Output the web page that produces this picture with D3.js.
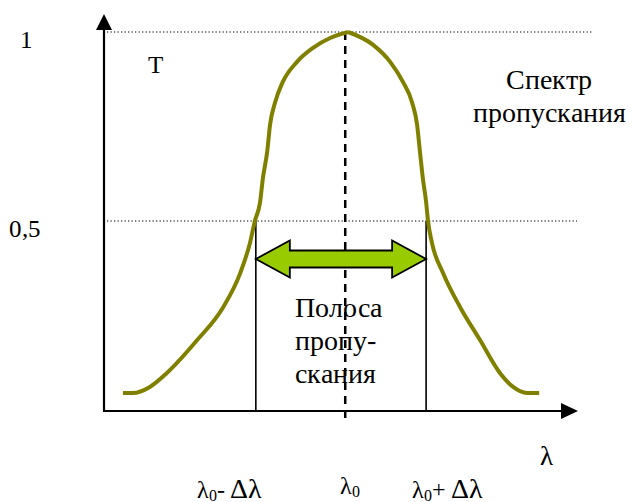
<!DOCTYPE html>
<html>
<head>
<meta charset="utf-8">
<script src="https://cdn.jsdelivr.net/npm/d3@7"></script>
<style>
	@font-face { font-family: "ChartSerif"; src: local("Liberation Serif"), local("LiberationSerif"), local("LiberationSerif-Regular"); }
</style>
</head>
<body style="margin:0">
<svg id="chart"></svg>
<script>
// wavelength (arbitrary units) and transmission T of the filter
var lambdaValues = [4.0, 6.1, 9.7, 13.3, 19.7, 25.2, 28.8, 30.9, 31.9, 33.0, 33.6, 34.5, 35.1, 36.2, 37.8, 40.8, 44.2, 47.8, 51.6,
	56.9, 60.5, 63.2, 65.1, 66.2, 66.8, 67.4, 68.1, 68.5, 69.3, 71.7, 75.3, 79.5, 83.7, 86.5, 89.4, 92.0];
var transmission = [0.045, 0.045, 0.061, 0.098, 0.185, 0.272, 0.362, 0.444, 0.5, 0.550, 0.614, 0.683, 0.754, 0.815, 0.868, 0.921, 0.958, 0.984, 1.0,
	0.966, 0.921, 0.868, 0.815, 0.754, 0.683, 0.614, 0.550, 0.5, 0.444, 0.362, 0.272, 0.185, 0.098, 0.061, 0.045, 0.045];
var peakIndex = 18;

var yTickValues = [1, 0.5];
var yTickLabels = ["1", "0,5"];

var lambda0 = 51.0;
var bandEdges = [32.1, 68.1];   // lambda0 - dl, lambda0 + dl
var bandText = ["Полоса", "пропу-", "скания"];
var spectrumText = ["Спектр", "пропускания"];

var svg = d3.select("#chart").attr("width", 633).attr("height", 502);

var xScale = d3.scaleLinear().domain([0, 100]).range([104, 577]);
var yScale = d3.scaleLinear().domain([0, 1]).range([410, 32]);

var curveColor = "#808000";
var serif = "ChartSerif";

// dotted reference lines for T = 1 and T = 0.5
svg.selectAll(".refLine")
	.data(yTickValues)
	.enter()
	.append("line")
	.attr("class", "refLine")
	.attr("x1", xScale(0) + 3)
	.attr("x2", function(d) { return d == 1 ? 593 : 577; })
	.attr("y1", function(d) { return yScale(d); })
	.attr("y2", function(d) { return yScale(d); })
	.attr("stroke", "#000")
	.attr("stroke-width", 1.2)
	.attr("stroke-dasharray", "1.3,2.2");

// band edges: vertical lines from T = 0.5 down to the axis
svg.selectAll(".bandEdge")
	.data(bandEdges)
	.enter()
	.append("line")
	.attr("class", "bandEdge")
	.attr("x1", function(d) { return xScale(d); })
	.attr("x2", function(d) { return xScale(d); })
	.attr("y1", yScale(0.5))
	.attr("y2", yScale(0))
	.attr("stroke", "#000")
	.attr("stroke-width", 1.6);

// central wavelength
svg.append("line")
	.attr("x1", xScale(lambda0))
	.attr("x2", xScale(lambda0))
	.attr("y1", yScale(1))
	.attr("y2", yScale(0) + 13)
	.attr("stroke", "#000")
	.attr("stroke-width", 2.5)
	.attr("stroke-dasharray", "8,6");

// transmission curve: rising and falling halves meet in a sharp peak
var line = d3.line()
	.x(function(d) { return xScale(lambdaValues[d]); })
	.y(function(d) { return yScale(transmission[d]); })
	.curve(d3.curveMonotoneX);

var idx = d3.range(lambdaValues.length);
[idx.slice(0, peakIndex + 1), idx.slice(peakIndex)].forEach(function(part) {
	svg.append("path")
		.attr("d", line(part))
		.attr("fill", "none")
		.attr("stroke", curveColor)
		.attr("stroke-width", 4);
});

// double arrow for the pass band
var xa = xScale(bandEdges[0]), xb = xScale(bandEdges[1]);
var ya = 259, headLen = 34, headHalf = 18.5, shaftHalf = 8.5;
var arrowPts = [
	[xa, ya], [xa + headLen, ya - headHalf], [xa + headLen, ya - shaftHalf],
	[xb - headLen, ya - shaftHalf], [xb - headLen, ya - headHalf], [xb, ya],
	[xb - headLen, ya + headHalf], [xb - headLen, ya + shaftHalf],
	[xa + headLen, ya + shaftHalf], [xa + headLen, ya + headHalf]
];
svg.append("path")
	.attr("d", "M" + arrowPts.join("L") + "Z")
	.attr("fill", "#99cc00")
	.attr("stroke", "#000")
	.attr("stroke-width", 1.8);

// axes
var x0 = xScale(0), y0 = yScale(0);
svg.append("line")
	.attr("x1", x0).attr("x2", x0)
	.attr("y1", y0 + 1).attr("y2", 28)
	.attr("stroke", "#000").attr("stroke-width", 2.2);
svg.append("path")
	.attr("d", "M" + (x0 - 8) + ",30L" + x0 + ",14L" + (x0 + 8) + ",30Z")
	.attr("fill", "#000");
svg.append("line")
	.attr("x1", x0 - 1).attr("x2", 563)
	.attr("y1", y0 + 1).attr("y2", y0 + 1)
	.attr("stroke", "#000").attr("stroke-width", 2.2);
svg.append("path")
	.attr("d", "M561," + (y0 - 7) + "L578," + (y0 + 1) + "L561," + (y0 + 9) + "Z")
	.attr("fill", "#000");

// plain text labels
var labels = [
	{ x: 20, y: yScale(yTickValues[0]) + 16, size: 25, anchor: "start", text: yTickLabels[0] },
	{ x: 9, y: yScale(yTickValues[1]) + 16, size: 25, anchor: "start", text: yTickLabels[1] },
	{ x: 148, y: 73, size: 25, anchor: "start", text: "T" },
	{ x: 540, y: 465, size: 27, anchor: "start", text: "λ" }
];
spectrumText.forEach(function(s, i) {
	labels.push({ x: 549, y: 89 + i * 33, size: 28, anchor: "middle", text: s });
});
bandText.forEach(function(s, i) {
	labels.push({ x: 295, y: 317 + i * 33, size: 28, anchor: "start", text: s });
});

svg.selectAll(".label")
	.data(labels)
	.enter()
	.append("text")
	.attr("class", "label")
	.attr("x", function(d) { return d.x; })
	.attr("y", function(d) { return d.y; })
	.attr("font-size", function(d) { return d.size; })
	.attr("font-family", serif)
	.attr("text-anchor", function(d) { return d.anchor; })
	.text(function(d) { return d.text; });

// wavelength labels under the axis
var lambdaLabels = [
	{ x: xScale(bandEdges[0]) - 59, y: 498, suffix: "-" },
	{ x: xScale(lambda0) - 5, y: 494, suffix: null },
	{ x: xScale(bandEdges[1]) - 14, y: 498, suffix: "+" }
];
svg.selectAll(".lambdaLabel")
	.data(lambdaLabels)
	.enter()
	.append("text")
	.attr("class", "lambdaLabel")
	.attr("x", function(d) { return d.x; })
	.attr("y", function(d) { return d.y; })
	.attr("font-size", 24)
	.attr("font-family", serif)
	.each(function(d) {
		var t = d3.select(this);
		t.append("tspan").text("λ");
		t.append("tspan").attr("font-size", 16).attr("dy", 3).text("0");
		if (d.suffix) {
			t.append("tspan").attr("dy", -3).text(d.suffix);
			t.append("tspan").attr("font-size", 28).text(" Δλ");
		}
	});
</script>
</body>
</html>
